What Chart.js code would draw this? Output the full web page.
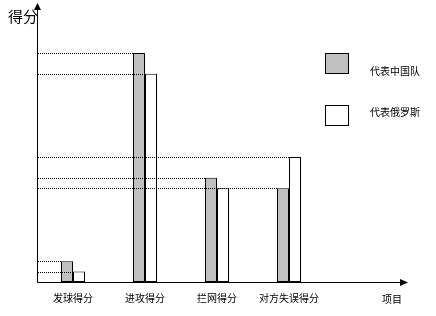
<!DOCTYPE html>
<html lang="zh">
<head>
    <meta charset="UTF-8">
    <title>得分对比</title>
    <script src="https://cdn.jsdelivr.net/npm/chart.js"></script>
    <style>
        html, body { margin: 0; padding: 0; background: #fff; }
        canvas { display: block; }
    </style>
</head>
<body>
    <canvas id="scoreChart" width="436" height="316"></canvas>

    <script>
        // Data
        const categories = ['发球得分', '进攻得分', '拦网得分', '对方失误得分'];
        const chinaScores = [2, 22, 10, 9];
        const russiaScores = [1, 20, 9, 12];
        const seriesNames = ['代表中国队', '代表俄罗斯'];
        const yTitle = '得分';
        const xTitle = '项目';

        const cjkFont = '"Noto Sans CJK SC", "Noto Sans", sans-serif';

        // Axis lines with arrows, axis titles
        const axesPlugin = {
            id: 'axesArrows',
            afterDraw(chart) {
                const ctx = chart.ctx;
                const area = chart.chartArea;
                const x0 = Math.round(area.left) + 0.5;
                const y0 = Math.round(area.bottom) + 0.5;
                ctx.save();
                ctx.strokeStyle = '#000';
                ctx.fillStyle = '#000';
                ctx.lineWidth = 1;
                ctx.setLineDash([]);
                ctx.beginPath();
                ctx.moveTo(x0, y0);
                ctx.lineTo(x0, 9);
                ctx.moveTo(x0, y0);
                ctx.lineTo(400, y0);
                ctx.stroke();
                // up arrow
                ctx.beginPath();
                ctx.moveTo(x0, 3);
                ctx.lineTo(x0 - 3.5, 10);
                ctx.lineTo(x0 + 3.5, 10);
                ctx.closePath();
                ctx.fill();
                // right arrow
                ctx.beginPath();
                ctx.moveTo(408, y0);
                ctx.lineTo(400, y0 - 3.5);
                ctx.lineTo(400, y0 + 3.5);
                ctx.closePath();
                ctx.fill();

                ctx.font = '15px ' + cjkFont;
                ctx.textBaseline = 'middle';
                ctx.textAlign = 'left';
                ctx.fillText(yTitle, 8, 16);
                ctx.font = '10px ' + cjkFont;
                ctx.textAlign = 'center';
                ctx.fillText(xTitle, 392, 299);
                ctx.restore();
            }
        };

        // Dotted guide lines from the y axis to the top-left corner of each bar
        const guidePlugin = {
            id: 'guideLines',
            afterDatasetsDraw(chart) {
                const ctx = chart.ctx;
                const left = chart.chartArea.left;
                ctx.save();
                ctx.strokeStyle = '#000';
                ctx.lineWidth = 1;
                ctx.setLineDash([1, 1]);
                chart.data.datasets.forEach((ds, i) => {
                    chart.getDatasetMeta(i).data.forEach(bar => {
                        const y = Math.round(bar.y) + 0.5;
                        ctx.beginPath();
                        ctx.moveTo(left + 1, y);
                        ctx.lineTo(bar.x - bar.width / 2, y);
                        ctx.stroke();
                    });
                });
                ctx.restore();
            }
        };

        // Legend boxes at the right side
        const legendPlugin = {
            id: 'sideLegend',
            afterDraw(chart) {
                const ctx = chart.ctx;
                const boxes = [{ y: 53, ty: 71 }, { y: 105, ty: 112 }];
                ctx.save();
                chart.data.datasets.forEach((ds, i) => {
                    const b = boxes[i];
                    ctx.fillStyle = ds.backgroundColor;
                    ctx.strokeStyle = '#000';
                    ctx.lineWidth = 1;
                    ctx.fillRect(325.5, b.y + 0.5, 23, 20);
                    ctx.strokeRect(325.5, b.y + 0.5, 23, 20);
                    ctx.fillStyle = '#000';
                    ctx.font = '10px ' + cjkFont;
                    ctx.textBaseline = 'middle';
                    ctx.textAlign = 'left';
                    ctx.fillText(ds.label, 370, b.ty);
                });
                ctx.restore();
            }
        };

        const ctx = document.getElementById('scoreChart').getContext('2d');
        new Chart(ctx, {
            type: 'bar',
            data: {
                labels: categories,
                datasets: [{
                    label: seriesNames[0],
                    data: chinaScores,
                    backgroundColor: '#C0C0C0',
                    borderColor: '#000',
                    borderWidth: 1,
                    borderSkipped: false
                }, {
                    label: seriesNames[1],
                    data: russiaScores,
                    backgroundColor: '#FFFFFF',
                    borderColor: '#000',
                    borderWidth: 1,
                    borderSkipped: false
                }]
            },
            options: {
                responsive: false,
                animation: false,
                devicePixelRatio: 1,
                categoryPercentage: 1 / 3,
                barPercentage: 1,
                layout: {
                    padding: { left: 37, top: 5, right: 111, bottom: 2 }
                },
                plugins: {
                    legend: { display: false },
                    tooltip: { enabled: false }
                },
                scales: {
                    y: {
                        display: false,
                        min: 0,
                        max: 26.6
                    },
                    x: {
                        grid: { display: false, drawTicks: false },
                        border: { display: false },
                        ticks: {
                            color: '#000',
                            padding: 10,
                            maxRotation: 0,
                            font: { size: 10, family: cjkFont }
                        }
                    }
                }
            },
            plugins: [guidePlugin, axesPlugin, legendPlugin]
        });
    </script>
</body>
</html>
